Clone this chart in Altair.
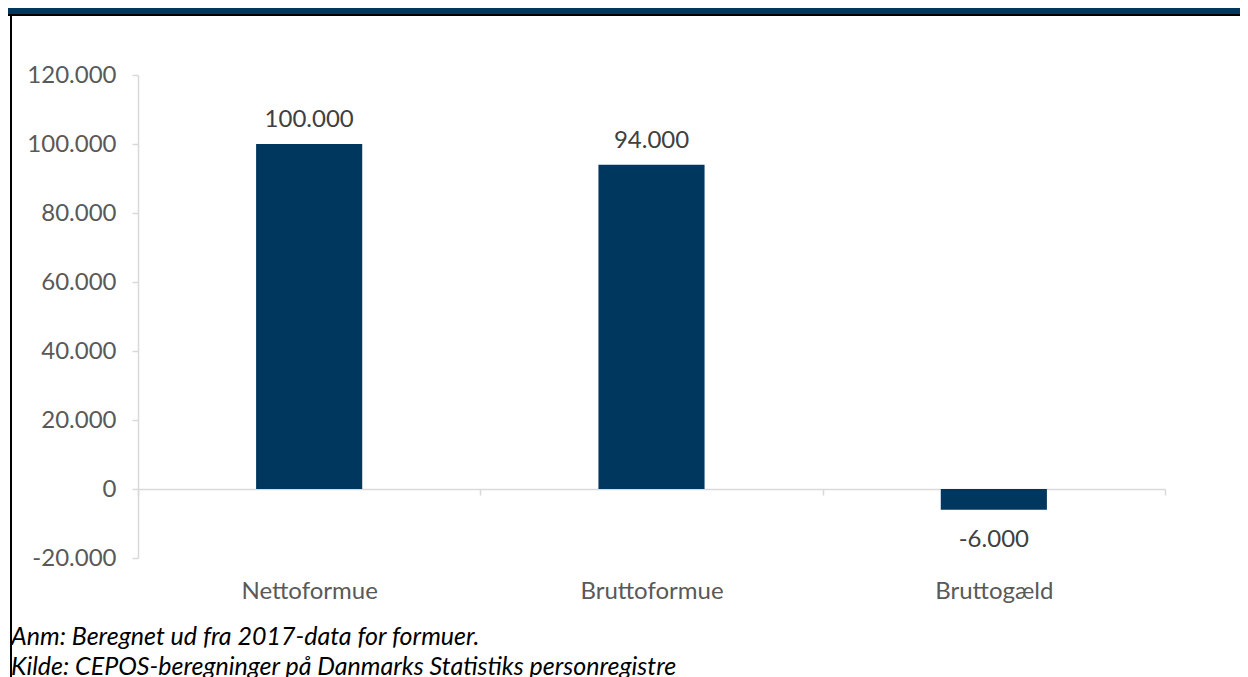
import altair as alt
import pandas as pd

categories = ["Nettoformue", "Bruttoformue", "Bruttogæld"]
values = [100000, 94000, -6000]
value_labels = ["100.000", "94.000", "-6.000"]
y_ticks = [-20000, 0, 20000, 40000, 60000, 80000, 100000, 120000]
note_lines = [
    "Anm: Beregnet ud fra 2017-data for formuer.",
    "Kilde: CEPOS-beregninger på Danmarks Statistiks personregistre",
]

NAVY = "#00375F"
AXIS_GREY = "#D9D9D9"
LABEL_GREY = "#595959"
FONT = "Lato"
FS = 24

df = pd.DataFrame({"cat": categories, "value": values, "label": value_labels})

x_enc = alt.X(
    "cat:N",
    sort=categories,
    title=None,
    scale=alt.Scale(paddingInner=0, paddingOuter=0),
    axis=alt.Axis(
        orient="bottom",
        offset=-69,
        domainColor=AXIS_GREY,
        domainWidth=1.5,
        tickColor=AXIS_GREY,
        tickWidth=1.5,
        tickSize=6,
        tickBand="extent",
        labelAngle=0,
        labelFont=FONT,
        labelFontSize=FS,
        labelColor=LABEL_GREY,
        labelPadding=84,
    ),
)
y_enc = alt.Y(
    "value:Q",
    title=None,
    scale=alt.Scale(domain=[-20000, 120000], nice=False),
    axis=alt.Axis(
        values=y_ticks,
        grid=False,
        domainColor=AXIS_GREY,
        domainWidth=1.5,
        tickColor=AXIS_GREY,
        tickWidth=1.5,
        tickSize=6,
        labelFont=FONT,
        labelFontSize=FS,
        labelColor=LABEL_GREY,
        labelPadding=16,
        labelExpr="replace(replace(format(datum.value, ','), ',', '.'), '\u2212', '-')",
    ),
)

bars = alt.Chart(df).mark_bar(color=NAVY, width=alt.RelativeBandSize(0.31)).encode(
    x=x_enc, y=y_enc
)

pos_labels = (
    alt.Chart(df)
    .transform_filter("datum.value >= 0")
    .mark_text(font=FONT, fontSize=FS, color="#404040", baseline="alphabetic", dy=-17)
    .encode(x=alt.X("cat:N", sort=categories), y="value:Q", text="label:N")
)
neg_labels = (
    alt.Chart(df)
    .transform_filter("datum.value < 0")
    .mark_text(font=FONT, fontSize=FS, color="#404040", baseline="alphabetic", dy=37)
    .encode(x=alt.X("cat:N", sort=categories), y="value:Q", text="label:N")
)

deco = pd.DataFrame({"d": [0]})
band = alt.Chart(deco).mark_rule(color=NAVY, strokeWidth=6).encode(
    x=alt.value(-130), x2=alt.value(1102), y=alt.value(-64)
)
band_line = alt.Chart(deco).mark_rule(color="black", strokeWidth=2).encode(
    x=alt.value(-130), x2=alt.value(1102), y=alt.value(-60)
)
left_border = alt.Chart(deco).mark_rule(color="black", strokeWidth=2).encode(
    x=alt.value(-127), y=alt.value(-60), y2=alt.value(602)
)

notes_df = pd.DataFrame({"t": note_lines})
note1 = (
    alt.Chart(notes_df)
    .transform_filter(alt.datum.t == note_lines[0])
    .mark_text(font=FONT, fontSize=25, fontStyle="italic", color="black", align="left", baseline="alphabetic")
    .encode(x=alt.value(-127), y=alt.value(570), text="t:N")
)
note2 = (
    alt.Chart(notes_df)
    .transform_filter(alt.datum.t == note_lines[1])
    .mark_text(font=FONT, fontSize=25, fontStyle="italic", color="black", align="left", baseline="alphabetic")
    .encode(x=alt.value(-127), y=alt.value(600), text="t:N")
)

chart = (
    alt.layer(bars, pos_labels, neg_labels, band, band_line, left_border, note1, note2)
    .properties(
        width=1027,
        height=483,
        autosize=alt.AutoSizeParams(type="none"),
        padding={"left": 130, "top": 67, "right": 75, "bottom": 119},
    )
    .configure(background="white", view=alt.ViewConfig(stroke=None))
)

chart.save("out.html", embed_options={"renderer": "svg", "actions": False})
